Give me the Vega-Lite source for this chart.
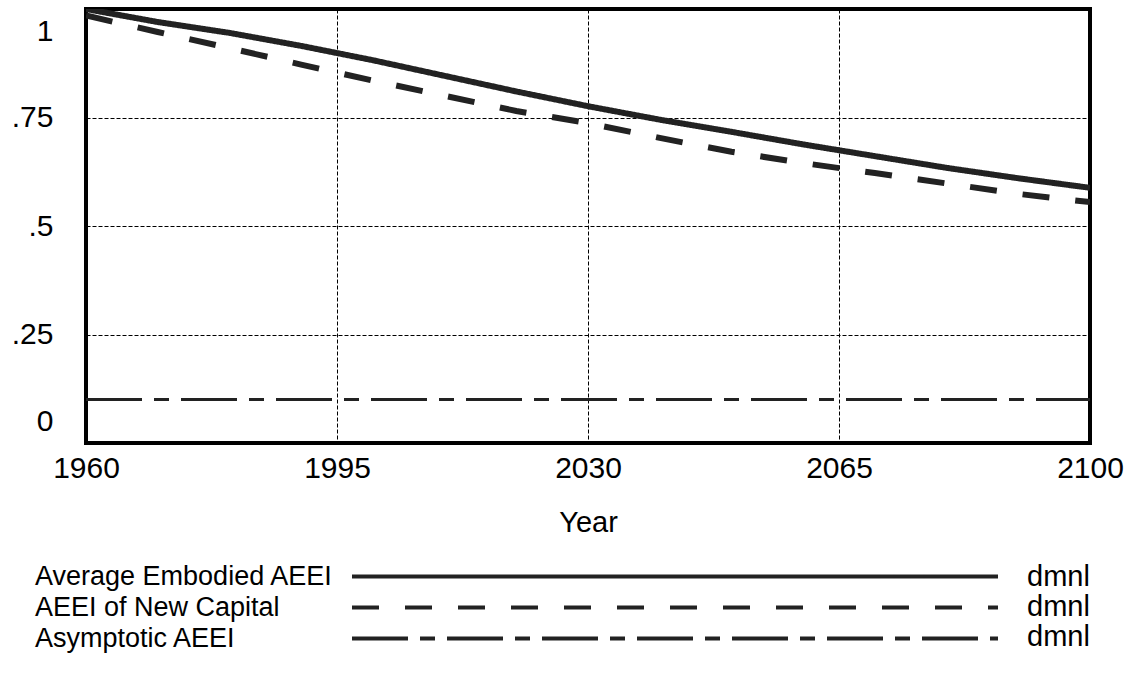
{
  "$schema": "https://vega.github.io/schema/vega-lite/v6.json",
  "width": 1004,
  "height": 434,
  "autosize": {"type": "none"},
  "padding": {"left": 86, "top": 9, "right": 41, "bottom": 230},
  "background": "white",
  "config": {
    "view": {"stroke": "black", "strokeWidth": 4},
    "font": "Liberation Sans"
  },
  "data": {
    "values": [
      {"year": 1960, "series": "Average Embodied AEEI", "value": 1.0},
      {"year": 1970, "series": "Average Embodied AEEI", "value": 0.97},
      {"year": 1980, "series": "Average Embodied AEEI", "value": 0.945},
      {"year": 1990, "series": "Average Embodied AEEI", "value": 0.915},
      {"year": 2000, "series": "Average Embodied AEEI", "value": 0.882},
      {"year": 2010, "series": "Average Embodied AEEI", "value": 0.846},
      {"year": 2020, "series": "Average Embodied AEEI", "value": 0.81},
      {"year": 2030, "series": "Average Embodied AEEI", "value": 0.776},
      {"year": 2040, "series": "Average Embodied AEEI", "value": 0.745},
      {"year": 2050, "series": "Average Embodied AEEI", "value": 0.717},
      {"year": 2060, "series": "Average Embodied AEEI", "value": 0.688},
      {"year": 2070, "series": "Average Embodied AEEI", "value": 0.661},
      {"year": 2080, "series": "Average Embodied AEEI", "value": 0.634},
      {"year": 2090, "series": "Average Embodied AEEI", "value": 0.61},
      {"year": 2100, "series": "Average Embodied AEEI", "value": 0.588},
      {"year": 1960, "series": "AEEI of New Capital", "value": 0.985},
      {"year": 1970, "series": "AEEI of New Capital", "value": 0.947},
      {"year": 1980, "series": "AEEI of New Capital", "value": 0.91},
      {"year": 1990, "series": "AEEI of New Capital", "value": 0.872},
      {"year": 2000, "series": "AEEI of New Capital", "value": 0.835},
      {"year": 2010, "series": "AEEI of New Capital", "value": 0.8},
      {"year": 2020, "series": "AEEI of New Capital", "value": 0.765},
      {"year": 2030, "series": "AEEI of New Capital", "value": 0.737},
      {"year": 2040, "series": "AEEI of New Capital", "value": 0.703},
      {"year": 2050, "series": "AEEI of New Capital", "value": 0.671},
      {"year": 2060, "series": "AEEI of New Capital", "value": 0.645},
      {"year": 2070, "series": "AEEI of New Capital", "value": 0.622},
      {"year": 2080, "series": "AEEI of New Capital", "value": 0.598},
      {"year": 2090, "series": "AEEI of New Capital", "value": 0.574},
      {"year": 2100, "series": "AEEI of New Capital", "value": 0.555},
      {"year": 1960, "series": "Asymptotic AEEI", "value": 0.1},
      {"year": 1970, "series": "Asymptotic AEEI", "value": 0.1},
      {"year": 1980, "series": "Asymptotic AEEI", "value": 0.1},
      {"year": 1990, "series": "Asymptotic AEEI", "value": 0.1},
      {"year": 2000, "series": "Asymptotic AEEI", "value": 0.1},
      {"year": 2010, "series": "Asymptotic AEEI", "value": 0.1},
      {"year": 2020, "series": "Asymptotic AEEI", "value": 0.1},
      {"year": 2030, "series": "Asymptotic AEEI", "value": 0.1},
      {"year": 2040, "series": "Asymptotic AEEI", "value": 0.1},
      {"year": 2050, "series": "Asymptotic AEEI", "value": 0.1},
      {"year": 2060, "series": "Asymptotic AEEI", "value": 0.1},
      {"year": 2070, "series": "Asymptotic AEEI", "value": 0.1},
      {"year": 2080, "series": "Asymptotic AEEI", "value": 0.1},
      {"year": 2090, "series": "Asymptotic AEEI", "value": 0.1},
      {"year": 2100, "series": "Asymptotic AEEI", "value": 0.1}
    ]
  },
  "mark": {"type": "line", "color": "#222222", "strokeCap": "butt", "clip": true},
  "encoding": {
    "x": {
      "field": "year",
      "type": "quantitative",
      "scale": {"domain": [1960, 2100], "nice": false, "zero": false},
      "axis": {
        "title": "Year",
        "values": [1960, 1995, 2030, 2065, 2100],
        "format": "d",
        "labelFont": "Liberation Sans",
        "labelFontSize": 30,
        "labelColor": "black",
        "labelPadding": 10,
        "labelFlush": false,
        "labelOverlap": false,
        "ticks": false,
        "domain": false,
        "grid": true,
        "gridColor": "black",
        "gridWidth": 1,
        "gridDash": [4, 2],
        "titleFont": "Liberation Sans",
        "titleFontSize": 29,
        "titleFontWeight": "normal",
        "titleColor": "black",
        "titlePadding": 25
      }
    },
    "y": {
      "field": "value",
      "type": "quantitative",
      "scale": {"domain": [0, 1], "nice": false, "zero": false},
      "axis": {
        "title": null,
        "values": [0, 0.25, 0.5, 0.75, 1],
        "labelExpr": "datum.value == 0 ? '0' : datum.value == 1 ? '1' : slice(format(datum.value, '.2~f'), 1)",
        "labelFont": "Liberation Sans",
        "labelFontSize": 30,
        "labelColor": "black",
        "labelPadding": 33,
        "labelFlush": true,
        "labelFlushOffset": -7,
        "labelOverlap": false,
        "ticks": false,
        "domain": false,
        "grid": true,
        "gridColor": "black",
        "gridWidth": 1,
        "gridDash": [4, 2]
      }
    },
    "strokeDash": {
      "field": "series",
      "type": "nominal",
      "scale": {
        "domain": ["Average Embodied AEEI", "AEEI of New Capital", "Asymptotic AEEI"],
        "range": [[1, 0], [27, 26], [56, 12, 15, 12]]
      },
      "legend": {
        "orient": "none",
        "legendX": -51,
        "legendY": 554,
        "direction": "vertical",
        "padding": 0,
        "title": ["dmnl", "dmnl", "dmnl"],
        "titleOrient": "right",
        "titleAnchor": "start",
        "titleBaseline": "top",
        "titleFont": "Liberation Sans",
        "titleFontSize": 29,
        "titleFontWeight": "normal",
        "titleLineHeight": 30,
        "titlePadding": 21,
        "titleColor": "black",
        "labelFont": "Liberation Sans",
        "labelFontSize": 27,
        "labelColor": "black",
        "labelAlign": "left",
        "labelBaseline": "middle",
        "labelOffset": -653.5,
        "labelLimit": 0,
        "symbolType": "M-32.3,0H32.3",
        "symbolSize": 400,
        "symbolStrokeWidth": 4,
        "symbolStrokeColor": "#222222",
        "symbolFillColor": "transparent",
        "symbolOffset": 626.5,
        "rowPadding": 3
      }
    },
    "strokeWidth": {
      "condition": {"test": "datum.series === 'Asymptotic AEEI'", "value": 3},
      "value": 6
    }
  }
}
